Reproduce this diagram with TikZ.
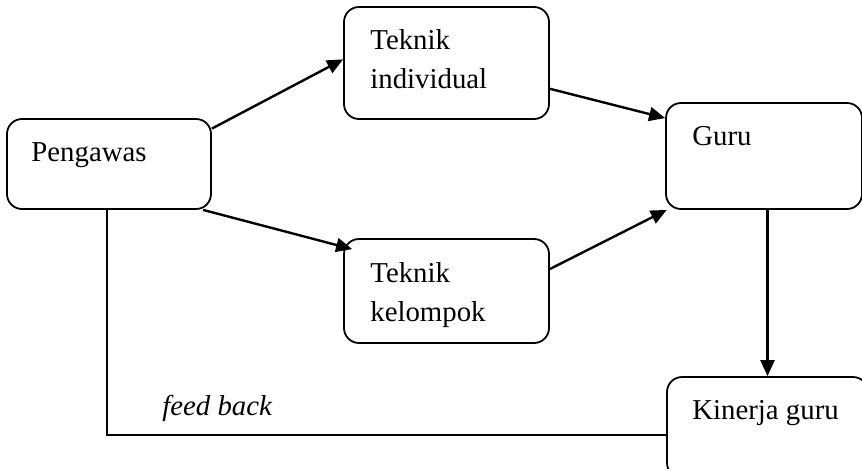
\documentclass[tikz,border=0pt]{standalone}
\usepackage{fontspec}
\setmainfont{Liberation Serif}
\usetikzlibrary{arrows.meta}
\begin{document}
\begin{tikzpicture}[x=0.5pt,y=-0.5pt,
  box/.style={draw, rounded corners=7.5pt, line width=0.9pt, inner sep=0pt},
  lbl/.style={inner sep=0pt, font=\fontsize{14.4}{19.5}\selectfont},
  arr/.style={line width=1.2pt, -{Triangle[length=8pt,width=7pt]}},
  fb/.style={line width=0.75pt}]
\useasboundingbox (0,0) rectangle (862,468);
\clip (0,0) rectangle (862,468);
% boxes
\node[box, minimum width=102pt, minimum height=45pt] (pengawas) at (109,164) {};
\node[box, minimum width=102.5pt, minimum height=56pt] (ti) at (446.5,63) {};
\node[box, minimum width=98pt, minimum height=53pt] (guru) at (764,156) {};
\node[box, minimum width=102.5pt, minimum height=52pt] (tk) at (446.5,291) {};
\node[box, minimum width=100.5pt, minimum height=50.5pt] (kinerja) at (767.5,427.5) {};
% texts
\node[lbl, anchor=base west] (tpengawas) at (31,161) {Pengawas};
\node[lbl, anchor=north west, align=left] (tti) at (370,29.5) {Teknik\\individual};
\node[lbl, anchor=base west] (tguru) at (692,145) {Guru};
\node[lbl, anchor=north west, align=left] (ttk) at (370,262.5) {Teknik\\kelompok};
\node[lbl, anchor=base west] (tkinerja) at (692,419) {Kinerja guru};
\node[lbl, anchor=base west] (tfeed) at (162,415) {\itshape feed back};
% connectors
\draw[arr] (pengawas.19) -- (ti.178);
\draw[arr] (pengawas.-26) -- ([xshift=4.5pt,yshift=-5.5pt]tk.north west);
\draw[arr] (ti.-14.4) -- (guru.159);
\draw[arr] (tk.12.2) -- (guru.-151);
\draw[arr] (kinerja.north |- guru.south) -- (kinerja.north);
\draw[fb] ([xshift=-1pt]pengawas.south) |- ([yshift=-3.75pt]kinerja.west);
\end{tikzpicture}
\end{document}
